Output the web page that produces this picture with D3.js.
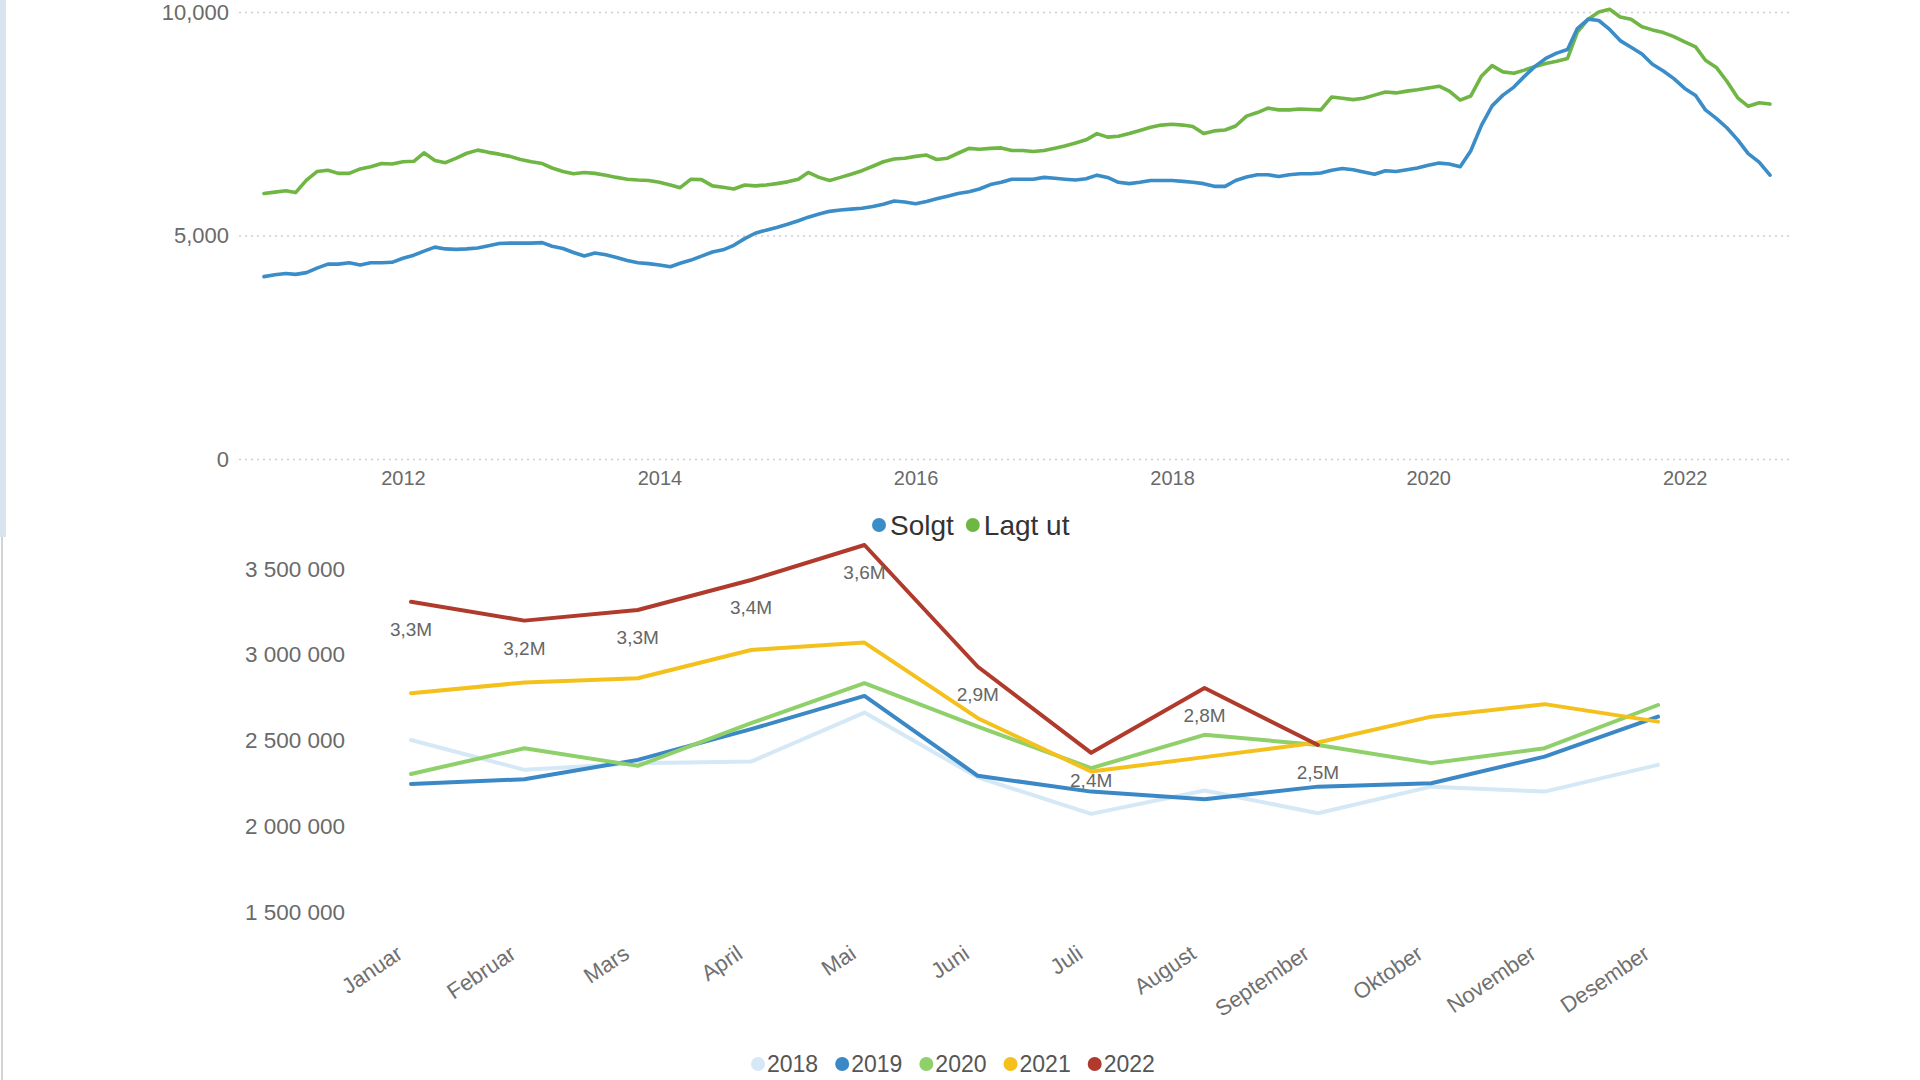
<!DOCTYPE html>
<html><head><meta charset="utf-8">
<script src="https://cdn.jsdelivr.net/npm/d3@7"></script>
<style>html,body{margin:0;padding:0;background:#fff;overflow:hidden}</style>
</head><body><svg id="c" width="1920" height="1080"></svg>
<script>
const FONT = "'Liberation Sans', Arial, sans-serif";

// ---------- Top chart data (monthly, Dec 2010 – Sep 2022) ----------
const topStart = new Date(2010, 11, 1);
const topEnd = new Date(2022, 8, 1);
const topYTicks = [0, 5000, 10000];
const topXTickYears = [2012, 2014, 2016, 2018, 2020, 2022];
const topSeriesNames = ["Solgt", "Lagt ut"];
const solgt = [
4080,4120,4150,4130,4170,4270,4360,4360,4390,4340,
4390,4390,4400,4490,4560,4650,4740,4700,4690,4700,
4720,4770,4820,4830,4830,4830,4840,4760,4710,4620,
4540,4610,4570,4510,4440,4390,4370,4340,4300,4380,
4450,4540,4630,4680,4780,4930,5050,5120,5180,5250,
5330,5410,5480,5540,5570,5590,5610,5650,5700,5770,
5750,5710,5760,5820,5880,5940,5980,6040,6140,6190,
6260,6260,6260,6300,6280,6260,6240,6270,6350,6300,
6190,6160,6190,6230,6230,6230,6210,6190,6160,6100,
6100,6230,6310,6360,6360,6320,6360,6380,6380,6400,
6460,6500,6470,6420,6370,6450,6430,6470,6510,6570,
6620,6600,6540,6890,7470,7900,8140,8320,8560,8790,
8960,9080,9160,9630,9840,9810,9610,9360,9210,9060,
8830,8680,8510,8290,8130,7810,7620,7410,7140,6830,
6640,6350];
const lagtUt = [
5940,5970,6000,5960,6240,6430,6460,6390,6390,6490,
6540,6610,6600,6650,6660,6850,6680,6630,6730,6840,
6910,6860,6820,6770,6700,6650,6610,6510,6430,6380,
6410,6390,6350,6300,6260,6240,6230,6190,6130,6070,
6260,6250,6110,6080,6040,6130,6110,6130,6160,6200,
6260,6410,6300,6230,6300,6370,6450,6550,6650,6710,
6730,6770,6800,6700,6730,6840,6950,6930,6950,6960,
6900,6900,6880,6900,6950,7000,7070,7140,7280,7200,
7220,7280,7350,7420,7470,7490,7470,7440,7280,7340,
7360,7450,7670,7750,7850,7810,7810,7830,7820,7810,
8100,8070,8040,8070,8140,8210,8190,8230,8260,8300,
8340,8230,8030,8120,8570,8800,8660,8630,8700,8780,
8850,8900,8960,9550,9840,10000,10060,9890,9840,9670,
9600,9540,9450,9330,9220,8920,8760,8450,8080,7890,
7970,7940];

// ---------- Bottom chart data ----------
const months = ["Januar","Februar","Mars","April","Mai","Juni","Juli","August","September","Oktober","November","Desember"];
const years = ["2018","2019","2020","2021","2022"];
const v2018 = [2503000,2329000,2367000,2377000,2663000,2285000,2072000,2208000,2076000,2231000,2202000,2358000];
const v2019 = [2247000,2274000,2387000,2566000,2760000,2294000,2202000,2158000,2231000,2251000,2406000,2639000];
const v2020 = [2305000,2455000,2352000,2601000,2834000,2581000,2339000,2533000,2474000,2368000,2455000,2707000];
const v2021 = [2776000,2838000,2863000,3028000,3071000,2630000,2319000,2403000,2488000,2639000,2712000,2610000];
const v2022 = [3309000,3199000,3261000,3436000,3640000,2930000,2428000,2806000,2474000];
const bottomYTicks = [1500000,2000000,2500000,3000000,3500000];

const topColors = {"Solgt":"#3b8dc8","Lagt ut":"#6fb644"};
const yearColors = {"2018":"#d5e8f6","2019":"#3a88c5","2020":"#8fd06b","2021":"#f4c01c","2022":"#b03a2c"};

const svg = d3.select("#c").style("font-family", FONT);

// screenshot edges
svg.append("rect").attr("x",0).attr("y",0).attr("width",6).attr("height",537).attr("fill","#d8e4f0");
svg.append("rect").attr("x",1).attr("y",537).attr("width",2).attr("height",543).attr("fill","#d4d4d4");

// ---------- TOP CHART ----------
const dates = d3.timeMonth.range(topStart, d3.timeMonth.offset(topEnd, 1));
const xT = d3.scaleTime().domain([topStart, topEnd]).range([264, 1770]);
const yT = d3.scaleLinear().domain([0, 10000]).range([459, 12]);

const yAxT = svg.append("g").attr("transform","translate(239,0)")
  .call(d3.axisLeft(yT).tickValues(topYTicks).tickFormat(d3.format(",")).tickSize(-1551).tickPadding(10));
yAxT.select(".domain").remove();
yAxT.selectAll(".tick line").attr("stroke","#cfcfcf").attr("stroke-width",1.6).attr("stroke-dasharray","2,4");
yAxT.selectAll("text").attr("fill","#6a6a6a").style("font-size","22px").style("font-family",FONT);

const xAxT = svg.append("g").attr("transform","translate(0,459)")
  .call(d3.axisBottom(xT).tickValues(topXTickYears.map(y=>new Date(y,0,1))).tickFormat(d3.timeFormat("%Y")).tickSize(0).tickPadding(12));
xAxT.select(".domain").remove();
xAxT.selectAll("text").attr("fill","#6a6a6a").style("font-size","20px").style("font-family",FONT);

const topData = {"Solgt": solgt, "Lagt ut": lagtUt};
const lineT = d3.line().x((d,i)=>xT(dates[i])).y(d=>yT(d));
["Lagt ut","Solgt"].forEach(name=>{
  svg.append("path").datum(topData[name]).attr("d", lineT)
    .attr("fill","none").attr("stroke", topColors[name]).attr("stroke-width",3.6)
    .attr("stroke-linejoin","round").attr("stroke-linecap","round");
});

// top legend
{
  let cx = 872;
  const g = svg.append("g");
  topSeriesNames.forEach(name=>{
    g.append("circle").attr("cx", cx+7).attr("cy", 525).attr("r", 7).attr("fill", topColors[name]);
    const t = g.append("text").attr("x", cx+18).attr("y", 535).text(name)
      .attr("fill","#333").style("font-size","28px");
    cx += 18 + t.node().getComputedTextLength() + 12;
  });
}

// ---------- BOTTOM CHART ----------
const xB = d3.scalePoint().domain(months).range([411, 1658]);
const yB = d3.scaleLinear().domain([1500000, 3500000]).range([912, 569]);
const noLocale = d3.formatLocale({decimal:",", thousands:" ", grouping:[3], currency:["","kr"]});

const yAxB = svg.append("g").attr("transform","translate(355,0)")
  .call(d3.axisLeft(yB).tickValues(bottomYTicks).tickFormat(noLocale.format(",")).tickSize(0).tickPadding(10));
yAxB.select(".domain").remove();
yAxB.selectAll("text").attr("fill","#6a6a6a").style("font-size","22.5px").style("font-family",FONT);

const xAxB = svg.append("g").attr("transform","translate(0,952)")
  .call(d3.axisBottom(xB).tickSize(0).tickPadding(0));
xAxB.select(".domain").remove();
xAxB.selectAll("text").attr("fill","#707070").style("font-size","22px").style("font-family",FONT)
  .attr("text-anchor","end").attr("dy",null).attr("x",-9).attr("y",0).attr("transform","rotate(-34)");

const bottomData = {"2018":v2018,"2019":v2019,"2020":v2020,"2021":v2021,"2022":v2022};
const lineB = d3.line().x((d,i)=>xB(months[i])).y(d=>yB(d));
years.forEach(y=>{
  svg.append("path").datum(bottomData[y]).attr("d", lineB)
    .attr("fill","none").attr("stroke", yearColors[y]).attr("stroke-width",4)
    .attr("stroke-linejoin","round").attr("stroke-linecap","round");
});

// data labels for 2022
svg.append("g").selectAll("text").data(v2022).join("text")
  .attr("x",(d,i)=>xB(months[i])).attr("y", d=>yB(d)+34)
  .attr("text-anchor","middle").attr("fill","#666").style("font-size","19px")
  .text(d=>d3.format(".1f")(d/1e6).replace(".",",")+"M");

// bottom legend
{
  let cx = 751;
  const g = svg.append("g");
  years.forEach(y=>{
    g.append("circle").attr("cx", cx+7).attr("cy", 1064).attr("r", 7).attr("fill", yearColors[y]);
    const t = g.append("text").attr("x", cx+16).attr("y", 1072).text(y)
      .attr("fill","#555").style("font-size","23px");
    cx += 16 + t.node().getComputedTextLength() + 17;
  });
}
</script></body></html>
